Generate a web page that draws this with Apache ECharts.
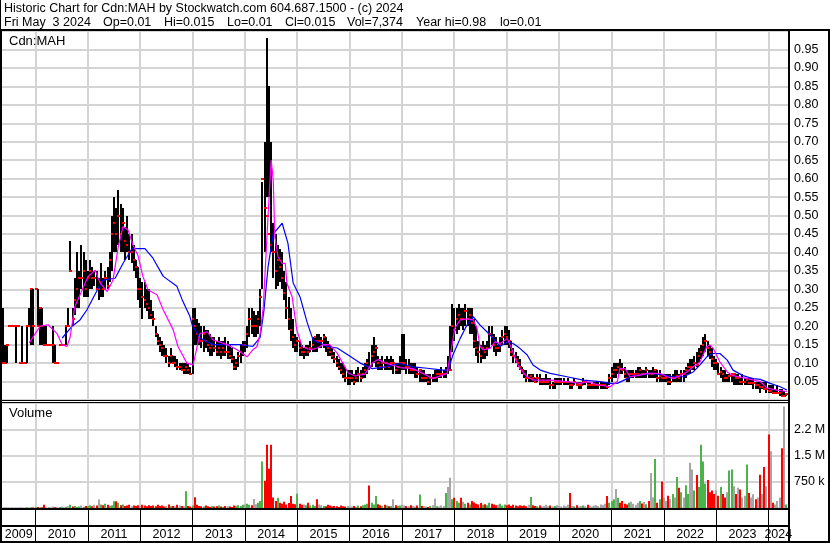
<!DOCTYPE html>
<html>
<head>
<meta charset="utf-8">
<title>Historic Chart for Cdn:MAH</title>
<script src="https://cdn.jsdelivr.net/npm/echarts@6/dist/echarts.min.js"></script>
<style>
  html, body { margin: 0; padding: 0; background: #fff; }
  #chart { width: 830px; height: 543px; }
</style>
</head>
<body>
<div id="chart"></div>
<script>
// half-month buckets, first one mid May 2009, last one early May 2024
const barStart = 2009.375
const barsPerYear = 24
const xMin = 2009.36
const xMax = 2024.37

const years = [2010, 2011, 2012, 2013, 2014, 2015, 2016, 2017, 2018, 2019, 2020, 2021, 2022, 2023, 2024]
const yearLabelAt = [2009.68, 2010.5, 2011.5, 2012.5, 2013.5, 2014.5, 2015.5, 2016.5, 2017.5, 2018.5, 2019.5, 2020.5, 2021.5, 2022.5, 2023.5, 2024.185]
const volTicks = [750000, 1500000, 2250000]
const volTickText = ['750 k', '1.5 M', '2.2 M']
const quoteFields = ['Fri May  3 2024', 'Op=0.01', 'Hi=0.015', 'Lo=0.01', 'Cl=0.015', 'Vol=7,374', 'Year hi=0.98', 'lo=0.01']

const high = [
  .25,.15,.15,.20,.20,.20,.20,.20,.10,.20,.10,.20,.25,.30,.30, // 2009
  .30,.30,.25,.25,.20,.20,.15,.15,.20,.15,.10,.15,.15,.15,.20,.25,.43,.25,.33,.40,.35,.42,.40,.38, // 2010
  .35,.38,.36,.35,.35,.33,.37,.33,.35,.36,.40,.50,.55,.52,.57,.53,.52,.47,.50,.45,.45,.42,.38,.36, // 2011
  .33,.32,.32,.30,.30,.27,.24,.20,.18,.17,.16,.15,.14,.12,.14,.12,.12,.11,.10,.10,.10,.10,.10,.09, // 2012
  .25,.25,.22,.21,.20,.20,.19,.19,.18,.17,.17,.16,.17,.16,.16,.17,.16,.15,.14,.12,.11,.13,.15,.16, // 2013
  .16,.20,.25,.25,.24,.23,.24,.30,.59,.70,.98,.85,.70,.48,.45,.42,.41,.40,.35,.32,.28,.25,.22,.18, // 2014
  .17,.16,.15,.14,.15,.15,.16,.17,.17,.18,.18,.17,.18,.17,.16,.15,.14,.13,.12,.11,.10,.10,.09,.08, // 2015
  .08,.08,.07,.08,.09,.08,.09,.10,.11,.13,.15,.17,.15,.12,.11,.12,.11,.12,.11,.12,.11,.10,.10,.12, // 2016
  .18,.18,.11,.11,.10,.10,.10,.09,.08,.08,.08,.07,.07,.07,.07,.08,.08,.08,.09,.08,.09,.12,.20,.26, // 2017
  .25,.25,.26,.25,.25,.26,.25,.25,.25,.22,.20,.16,.15,.16,.15,.16,.20,.20,.18,.17,.15,.17,.19,.20, // 2018
  .20,.19,.16,.14,.13,.12,.11,.09,.08,.08,.07,.07,.07,.06,.07,.07,.06,.06,.07,.06,.06,.05,.06,.06, // 2019
  .06,.06,.06,.05,.06,.05,.05,.06,.05,.05,.05,.06,.05,.05,.05,.04,.05,.05,.05,.05,.05,.05,.05,.07, // 2020
  .09,.10,.10,.10,.11,.10,.09,.08,.08,.08,.08,.08,.09,.09,.08,.08,.09,.08,.08,.09,.08,.08,.08,.07, // 2021
  .07,.07,.07,.07,.07,.08,.08,.07,.08,.08,.09,.10,.11,.11,.12,.13,.14,.15,.17,.18,.16,.15,.14,.12, // 2022
  .11,.10,.09,.08,.08,.07,.07,.07,.07,.07,.07,.06,.07,.06,.06,.06,.06,.06,.05,.05,.05,.05,.05,.05, // 2023
  .04,.04,.04,.03,.04,.03,.03,.025,.015 // 2024
]
const low = [
  .10,.10,.10,.20,.20,.20,.10,.20,.10,.10,.10,.10,.20,.15,.15,
  .30,.20,.15,.15,.15,.15,.15,.15,.10,.10,.10,.15,.15,.15,.15,.20,.35,.20,.23,.25,.25,.30,.28,.28,
  .28,.30,.30,.31,.30,.27,.28,.28,.30,.30,.32,.35,.40,.40,.42,.40,.40,.38,.40,.38,.37,.35,.33,.27,
  .25,.22,.25,.24,.22,.22,.20,.17,.15,.13,.12,.12,.10,.09,.10,.10,.09,.08,.08,.08,.07,.07,.07,.07,
  .07,.15,.15,.15,.14,.13,.14,.13,.12,.12,.13,.12,.12,.11,.12,.12,.11,.11,.10,.08,.08,.09,.10,.12,
  .13,.14,.17,.18,.17,.17,.18,.20,.30,.40,.55,.55,.40,.33,.30,.31,.32,.30,.27,.22,.19,.16,.14,.13,
  .13,.12,.12,.11,.12,.12,.13,.13,.13,.13,.14,.14,.14,.13,.12,.12,.11,.10,.09,.08,.07,.06,.05,.04,
  .04,.05,.04,.05,.05,.05,.06,.06,.07,.08,.09,.10,.09,.08,.08,.08,.08,.08,.08,.08,.07,.07,.07,.07,
  .08,.08,.07,.07,.07,.07,.06,.06,.05,.05,.05,.05,.04,.04,.05,.05,.05,.06,.06,.06,.06,.07,.08,.13,
  .16,.18,.19,.20,.19,.20,.20,.18,.18,.14,.12,.10,.10,.11,.11,.12,.14,.15,.13,.12,.13,.13,.15,.15,
  .15,.14,.12,.10,.10,.09,.08,.07,.06,.05,.05,.05,.05,.05,.05,.04,.04,.04,.04,.04,.03,.03,.03,.04,
  .04,.04,.04,.04,.04,.03,.03,.04,.04,.03,.03,.04,.04,.03,.03,.03,.03,.03,.03,.03,.03,.03,.03,.04,
  .05,.06,.06,.07,.07,.07,.06,.05,.05,.06,.06,.06,.06,.06,.06,.06,.06,.06,.06,.06,.06,.05,.05,.05,
  .05,.05,.04,.04,.05,.05,.05,.05,.05,.05,.06,.07,.07,.08,.08,.09,.10,.11,.12,.13,.12,.11,.09,.08,
  .08,.07,.06,.05,.05,.05,.05,.05,.04,.04,.04,.04,.04,.04,.04,.04,.04,.03,.03,.03,.02,.03,.03,.02,
  .02,.02,.015,.015,.015,.01,.01,.01,.01
]
const close = [
  .10,.10,.15,.20,.20,.20,.20,.20,.10,.10,.10,.20,.20,.30,.20,
  .30,.20,.25,.20,.15,.15,.15,.15,.15,.10,.10,.15,.15,.15,.20,.20,.35,.22,.27,.30,.33,.33,.35,.30,
  .33,.35,.33,.33,.30,.30,.32,.30,.33,.31,.38,.45,.48,.45,.50,.45,.48,.43,.42,.40,.40,.38,.36,.30,
  .30,.28,.27,.26,.25,.23,.22,.18,.16,.15,.14,.12,.12,.10,.12,.10,.10,.09,.09,.08,.08,.09,.08,.07,
  .22,.20,.18,.17,.16,.18,.16,.15,.14,.15,.14,.13,.14,.13,.14,.13,.13,.12,.11,.09,.10,.12,.13,.15,
  .15,.18,.22,.20,.20,.20,.22,.28,.60,.52,.50,.45,.42,.40,.35,.38,.36,.33,.29,.25,.22,.19,.17,.15,
  .16,.14,.13,.13,.14,.13,.14,.15,.17,.16,.16,.16,.17,.15,.14,.13,.12,.11,.10,.09,.08,.07,.06,.06,
  .06,.06,.05,.06,.07,.06,.07,.08,.10,.09,.12,.13,.14,.10,.09,.10,.09,.10,.09,.10,.10,.08,.09,.10,
  .10,.10,.09,.09,.08,.08,.08,.07,.08,.06,.06,.06,.05,.06,.06,.06,.07,.07,.07,.07,.08,.08,.08,.20,
  .19,.22,.23,.22,.22,.24,.22,.23,.21,.16,.14,.13,.12,.14,.13,.14,.18,.17,.15,.14,.14,.15,.17,.18,
  .17,.16,.13,.12,.11,.10,.09,.08,.07,.06,.06,.065,.06,.05,.06,.05,.05,.05,.05,.05,.04,.04,.05,.05,
  .05,.05,.05,.05,.05,.04,.04,.05,.04,.04,.04,.05,.05,.04,.04,.04,.04,.04,.04,.04,.04,.04,.035,.06,
  .07,.08,.08,.09,.085,.08,.07,.06,.07,.07,.07,.07,.07,.08,.07,.07,.08,.07,.07,.07,.08,.06,.065,.06,
  .06,.06,.05,.05,.06,.06,.065,.06,.07,.07,.08,.09,.09,.09,.10,.095,.12,.13,.15,.16,.14,.13,.11,.10,
  .10,.07,.075,.07,.06,.06,.065,.07,.07,.06,.06,.05,.05,.05,.055,.045,.045,.045,.04,.04,.035,.035,.03,.03,
  .025,.025,.02,.02,.02,.02,.01,.01,.015
]
// volume in thousands of shares
const volumeK = [
  10,15,5,10,20,8,12,5,10,15,8,20,10,25,15,
  20,30,15,25,96,20,30,15,40,20,25,30,45,20,35,50,90,40,60,30,45,70,35,55,
  60,80,50,90,70,240,100,80,120,90,60,80,190,190,150,80,100,60,70,90,50,70,60,80,
  60,90,70,50,80,60,70,50,90,60,70,40,60,100,50,60,40,90,70,60,50,480,60,40,
  70,310,90,60,50,40,70,50,30,60,40,50,70,40,30,60,50,40,30,70,60,80,60,90,
  100,120,90,80,257,110,150,200,1330,780,1810,1120,1810,300,200,290,150,120,180,100,140,340,120,110,
  410,120,90,100,80,150,70,90,60,250,100,80,60,50,90,70,40,60,50,30,70,50,40,60,
  50,40,60,30,70,50,80,90,120,640,150,100,340,110,80,60,90,70,50,60,250,80,60,70,
  90,70,60,50,80,60,40,70,385,60,50,40,30,60,80,270,50,40,70,60,430,600,865,250,
  290,200,150,290,180,120,150,100,200,160,120,100,140,90,110,80,150,120,100,80,90,120,70,100,
  80,100,60,90,70,50,80,60,70,50,90,317,80,60,50,70,40,60,90,50,70,40,60,80,
  60,40,70,50,90,430,60,50,80,40,60,70,50,90,60,40,70,80,60,100,80,120,340,150,
  200,250,543,290,150,200,120,100,150,180,120,90,150,200,130,170,110,200,1000,300,1400,150,250,760,
  300,200,350,250,400,300,886,577,450,300,650,400,1290,1100,500,943,600,1810,1330,700,800,450,500,400,
  500,350,600,400,300,450,1070,1100,620,400,577,530,300,350,1240,430,300,390,250,300,950,400,1170,620,
  2100,1620,150,100,200,300,1710,2900,100
]

// moving averages: [year, price]
const maFast = [
  [2009.88,.155],[2010.09,.20],[2010.24,.204],[2010.41,.18],[2010.51,.15],[2010.60,.145],[2010.66,.17],[2010.75,.253],
  [2010.89,.298],[2011.00,.334],[2011.14,.352],[2011.23,.318],[2011.37,.294],[2011.48,.325],[2011.58,.415],[2011.67,.47],
  [2011.77,.46],[2011.86,.42],[2011.96,.39],[2012.05,.335],[2012.15,.298],[2012.32,.285],[2012.44,.244],[2012.63,.19],
  [2012.72,.145],[2012.89,.10],[2013.01,.095],[2013.14,.18],[2013.28,.185],[2013.39,.163],[2013.66,.15],[2013.85,.136],
  [2014.04,.117],[2014.15,.136],[2014.23,.145],[2014.29,.18],[2014.35,.253],[2014.44,.497],[2014.50,.65],[2014.54,.596],
  [2014.57,.443],[2014.63,.389],[2014.71,.37],[2014.77,.37],[2014.80,.317],[2014.90,.28],[2014.99,.19],[2015.09,.145],
  [2015.24,.136],[2015.38,.141],[2015.49,.15],[2015.62,.15],[2015.76,.127],[2015.87,.10],[2015.97,.074],[2016.10,.065],
  [2016.29,.07],[2016.43,.10],[2016.54,.11],[2016.68,.10],[2016.81,.095],[2016.96,.088],[2017.21,.085],[2017.48,.066],
  [2017.59,.058],[2017.86,.072],[2017.92,.122],[2018.01,.195],[2018.11,.217],[2018.24,.22],[2018.36,.217],[2018.43,.195],
  [2018.49,.145],[2018.55,.136],[2018.68,.14],[2018.78,.158],[2018.87,.153],[2019.01,.167],[2019.10,.136],[2019.16,.113],
  [2019.25,.085],[2019.39,.063],[2019.50,.054],[2019.83,.054],[2020.15,.05],[2020.40,.045],[2020.53,.05],[2020.78,.04],
  [2020.97,.036],[2021.11,.05],[2021.16,.085],[2021.26,.085],[2021.35,.063],[2021.49,.066],[2021.68,.072],[2021.93,.072],
  [2022.06,.063],[2022.18,.058],[2022.31,.066],[2022.44,.076],[2022.56,.09],[2022.69,.103],[2022.82,.145],[2022.88,.149],
  [2022.94,.14],[2023.07,.103],[2023.21,.076],[2023.32,.066],[2023.59,.058],[2023.84,.05],[2023.97,.032],[2024.16,.027],
  [2024.35,.023]
]
const maSlow = [
  [2010.51,.168],[2010.70,.20],[2010.85,.217],[2010.98,.244],[2011.18,.298],[2011.29,.325],[2011.52,.33],[2011.67,.37],
  [2011.84,.41],[2012.09,.41],[2012.24,.385],[2012.44,.335],[2012.70,.308],[2012.80,.272],[2012.95,.226],[2012.99,.204],
  [2013.14,.168],[2013.39,.15],[2013.91,.15],[2014.15,.145],[2014.29,.17],[2014.36,.24],[2014.44,.36],[2014.54,.45],
  [2014.71,.479],[2014.82,.425],[2014.92,.317],[2015.05,.28],[2015.19,.209],[2015.30,.163],[2015.57,.145],[2015.76,.141],
  [2015.97,.122],[2016.20,.10],[2016.43,.085],[2016.68,.09],[2016.96,.099],[2017.21,.09],[2017.48,.086],[2017.78,.081],
  [2017.88,.081],[2017.97,.122],[2018.11,.167],[2018.24,.203],[2018.36,.226],[2018.49,.203],[2018.62,.185],[2018.74,.167],
  [2018.87,.145],[2019.01,.158],[2019.12,.153],[2019.25,.14],[2019.39,.122],[2019.50,.095],[2019.64,.081],[2019.83,.072],
  [2020.15,.063],[2020.46,.054],[2020.78,.05],[2020.97,.045],[2021.11,.045],[2021.30,.058],[2021.41,.066],[2021.60,.069],
  [2021.79,.072],[2021.98,.068],[2022.18,.063],[2022.37,.063],[2022.56,.076],[2022.69,.095],[2022.82,.117],[2022.94,.126],
  [2023.07,.126],[2023.21,.108],[2023.32,.081],[2023.51,.066],[2023.70,.058],[2023.84,.056],[2024.03,.045],[2024.22,.036],
  [2024.35,.027]
]

const font = 'Arial, "Liberation Sans", sans-serif'
const grid = '#d4d4d4'

// up / down / unchanged against the previous bucket, used for volume colour
let bars = []
let vols = []
for (let i = 0; i < close.length; i++) {
  let t = barStart + i / barsPerYear
  let dir = i === 0 ? 0 : Math.sign(Math.round((close[i] - close[i - 1]) * 10000))
  bars.push([t, high[i], low[i], close[i]])
  vols.push([t, volumeK[i] * 1000, dir])
}
let yearData = years.map(y => [y, 0])

function yearLine(params, api) {
  let x = Math.round(api.coord([api.value(0), 0])[0])
  let cs = params.coordSys
  return {
    type: 'rect',
    shape: { x: x - 1, y: cs.y, width: 2, height: cs.height },
    style: { fill: grid }
  }
}

// black high-low bar with a red tick at the close
function priceBar(params, api) {
  let top = api.coord([api.value(0), api.value(1)])
  let bot = api.coord([api.value(0), api.value(2)])
  let cl = api.coord([api.value(0), api.value(3)])
  let x = Math.round(top[0])
  let y0 = Math.round(top[1])
  let h = Math.round(bot[1]) - y0
  let children = []
  if (h >= 2) {
    children.push({ type: 'rect', shape: { x: x - 1, y: y0, width: 2, height: h }, style: { fill: '#000' } })
  }
  children.push({ type: 'rect', shape: { x: x - 1, y: Math.round(cl[1]) - 1, width: 3, height: 2 }, style: { fill: '#ff0000' } })
  return { type: 'group', children: children }
}

function volBar(params, api) {
  let top = api.coord([api.value(0), api.value(1)])
  let base = api.coord([api.value(0), 0])
  let d = api.value(2)
  return {
    type: 'rect',
    shape: { x: Math.round(top[0]) - 1, y: top[1], width: 2, height: base[1] - top[1] },
    style: { fill: d > 0 ? '#4cb34c' : d < 0 ? '#ff0000' : '#a6a6a6' }
  }
}

function hLine(x, y, w, h) {
  return { type: 'rect', silent: true, z: 100, shape: { x: x, y: y, width: w, height: h }, style: { fill: '#000' } }
}
function label(text, x, y, size) {
  return { type: 'text', silent: true, z: 100, x: x, y: y,
    style: { text: text, fill: '#000', font: size + 'px ' + font, textVerticalAlign: 'middle' } }
}

// the quote line is laid out in fixed columns
const quoteX = [4, 103, 164, 227, 285, 347, 416, 500]
let quoteLine = quoteFields.map((f, k) => label(f, quoteX[k], 23, 12.5))

let chart = echarts.init(document.getElementById('chart'))
chart.setOption({
  animation: false,
  backgroundColor: '#fff',
  textStyle: { fontFamily: font },
  grid: [
    { left: 2, top: 31, width: 786, height: 369 },
    { left: 2, top: 403, width: 786, height: 105 }
  ],
  xAxis: [
    { gridIndex: 0, type: 'value', min: xMin, max: xMax,
      axisLine: { show: false }, axisTick: { show: false }, axisLabel: { show: false }, splitLine: { show: false } },
    { gridIndex: 1, type: 'value', min: xMin, max: xMax,
      axisLine: { show: false }, splitLine: { show: false },
      axisTick: { show: true, customValues: years, length: 33, lineStyle: { color: '#000', width: 1 } },
      axisLabel: { show: true, customValues: yearLabelAt, margin: 20, fontSize: 12.5, color: '#000',
        formatter: v => String(Math.floor(v)) } }
  ],
  yAxis: [
    { gridIndex: 0, type: 'value', position: 'right', min: 0, max: 1, interval: 0.05,
      axisLine: { show: false }, axisTick: { show: false },
      axisLabel: { margin: 6, fontSize: 12.5, color: '#000', formatter: v => (v > 0.01 && v < 0.99) ? v.toFixed(2) : '' },
      splitLine: { lineStyle: { color: grid, width: 2 } } },
    { gridIndex: 1, type: 'value', position: 'right', min: 0, max: 3000000, interval: 750000,
      axisLine: { show: false }, axisTick: { show: false },
      axisLabel: { margin: 6, fontSize: 12.5, color: '#000', formatter: v => {
        let k = volTicks.indexOf(v)
        return k < 0 ? '' : volTickText[k]
      } },
      splitLine: { lineStyle: { color: grid, width: 2 } } }
  ],
  series: [
    { type: 'custom', xAxisIndex: 0, yAxisIndex: 0, z: 1, silent: true, renderItem: yearLine, data: yearData },
    { type: 'custom', xAxisIndex: 1, yAxisIndex: 1, z: 1, silent: true, renderItem: yearLine, data: yearData },
    { type: 'custom', name: 'price', xAxisIndex: 0, yAxisIndex: 0, z: 2, silent: true, clip: true,
      renderItem: priceBar, data: bars },
    { type: 'line', name: 'slow', xAxisIndex: 0, yAxisIndex: 0, z: 3, silent: true, showSymbol: false,
      data: maSlow, lineStyle: { color: '#0000ff', width: 1.2 } },
    { type: 'line', name: 'fast', xAxisIndex: 0, yAxisIndex: 0, z: 4, silent: true, showSymbol: false,
      data: maFast, lineStyle: { color: '#ff00ff', width: 1.2 } },
    { type: 'custom', name: 'volume', xAxisIndex: 1, yAxisIndex: 1, z: 2, silent: true, clip: true,
      renderItem: volBar, data: vols }
  ],
  graphic: [
    label('Historic Chart for Cdn:MAH by Stockwatch.com 604.687.1500 - (c) 2024', 4, 9, 12.5),
    ...quoteLine,
    label('Cdn:MAH', 9, 41, 13),
    label('Volume', 9, 413, 13),
    hLine(0, 29, 830, 2),
    hLine(0, 0, 1, 543),
    hLine(0, 29, 2, 514),
    hLine(788, 29, 2, 514),
    hLine(828, 29, 2, 514),
    hLine(0, 400, 790, 1),
    hLine(0, 402, 790, 1),
    hLine(0, 508, 790, 2),
    hLine(0, 525, 790, 2),
    hLine(0, 541, 830, 2)
  ]
})
</script>
</body>
</html>
